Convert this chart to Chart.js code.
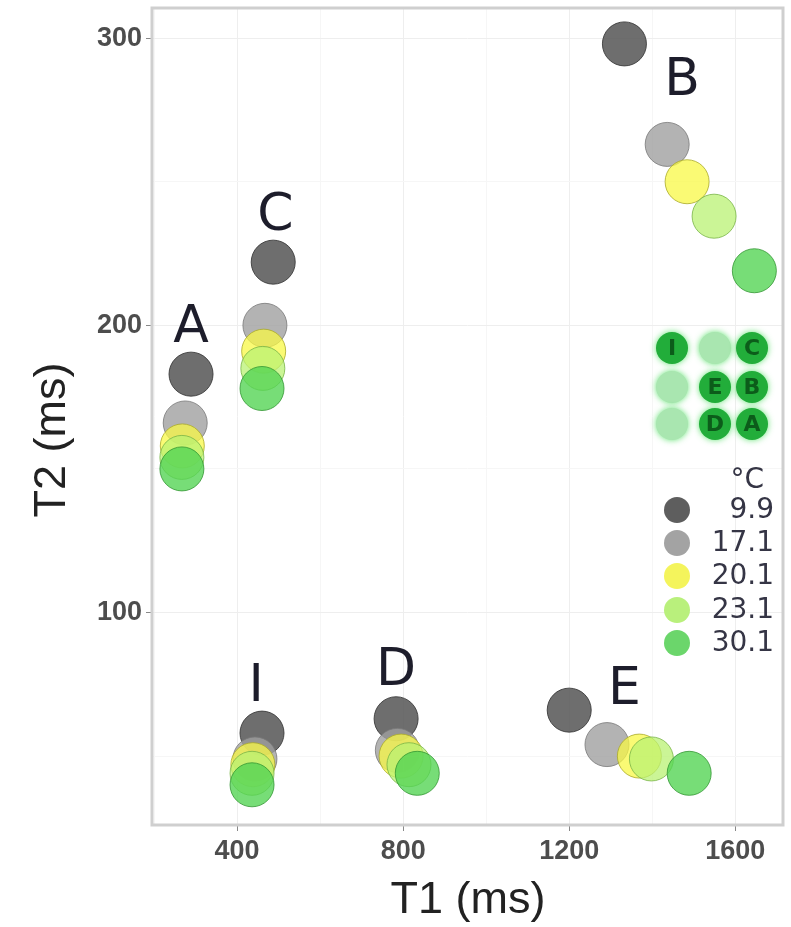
<!DOCTYPE html>
<html lang="en">
<head>
<meta charset="UTF-8">
<title>T1 vs T2</title>
<script src="https://cdn.jsdelivr.net/npm/chart.js"></script>
<style>
  body { margin: 0; background: #fff; }
  #wrap { width: 791px; height: 927px; }
</style>
</head>
<body>
<div id="wrap"><canvas id="myChart"></canvas></div>
<script>
// samples, in the same order in every series below
const samples = ['A', 'C', 'I', 'D', 'E', 'B'];
const temps = ['9.9', '17.1', '20.1', '23.1', '30.1'];

const t1_99  = [289, 487, 460, 783, 1200, 1333];
const t2_99  = [183, 222, 58, 63, 66, 298];
const t1_171 = [275, 467, 443, 786, 1291, 1436];
const t2_171 = [166, 200, 49, 52, 54, 263];
const t1_201 = [268, 464, 438, 795, 1369, 1484];
const t2_201 = [158, 191, 47, 50, 50, 250];
const t1_231 = [267, 462, 436, 814, 1398, 1549];
const t2_231 = [154, 185, 44, 47, 49, 238];
const t1_301 = [267, 460, 436, 834, 1489, 1646];
const t2_301 = [150, 178, 40, 44, 44, 219];

// where the sample letters sit (data units)
const labelT1 = [289, 492, 446, 783, 1333, 1472];
const labelT2 = [199, 238, 74, 79.5, 73, 285];

const xTicks = [400, 800, 1200, 1600];
const xMinor = [200, 600, 1000, 1400];
const yTicks = [100, 200, 300];
const yMinor = [50, 150, 250];

const fills   = ['rgba(85,85,85,0.85)', 'rgba(160,160,160,0.8)', 'rgba(248,248,70,0.75)', 'rgba(185,242,115,0.75)', 'rgba(85,212,85,0.8)'];
const borders = ['rgba(60,60,60,0.9)', 'rgba(120,120,120,0.8)', 'rgba(170,170,40,0.8)', 'rgba(120,180,70,0.8)', 'rgba(50,150,50,0.8)'];
const legendFills = ['#5e5e5e', '#a3a3a3', '#f4f45c', '#b9f07c', '#6bd66b'];

const t1Series = [t1_99, t1_171, t1_201, t1_231, t1_301];
const t2Series = [t2_99, t2_171, t2_201, t2_231, t2_301];

const datasets = temps.map((t, i) => ({
    label: t + ' °C',
    data: t1Series[i].map((x, j) => ({ x: x, y: t2Series[i][j] })),
    backgroundColor: fills[i],
    borderColor: borders[i],
    borderWidth: 1,
    pointRadius: 22,
    pointHoverRadius: 22,
    order: temps.length - i   // warmer ones on top
}));

const decor = {
    id: 'decor',
    beforeDatasetsDraw(chart) {
        const { ctx, chartArea: a } = chart;
        ctx.save();
        ctx.strokeStyle = '#cfcfcf';
        ctx.lineWidth = 3;
        ctx.strokeRect(a.left, a.top, a.right - a.left, a.bottom - a.top);
        ctx.restore();
    },
    afterDraw(chart) {
        const { ctx } = chart;
        const xs = chart.scales.x, ys = chart.scales.y;
        ctx.save();

        // sample letters
        ctx.fillStyle = '#1d1d2b';
        ctx.font = '52px "DejaVu Sans"';
        ctx.textAlign = 'center';
        ctx.textBaseline = 'middle';
        samples.forEach((s, i) => {
            ctx.fillText(s, xs.getPixelForValue(labelT1[i]), ys.getPixelForValue(labelT2[i]));
        });

        // plate layout inset
        const grid = [['I', '', 'C'], ['', 'E', 'B'], ['', 'D', 'A']];
        const gx = [672, 715, 752], gy = [348, 387, 424];
        grid.forEach((row, r) => row.forEach((s, c) => {
            ctx.save();
            ctx.shadowColor = 'rgba(60,220,80,0.8)';
            ctx.shadowBlur = 6;
            ctx.beginPath();
            ctx.arc(gx[c], gy[r], 16, 0, Math.PI * 2);
            ctx.fillStyle = s ? '#22ad3a' : '#a9e6b0';
            ctx.fill();
            ctx.restore();
            if (s) {
                ctx.fillStyle = '#0c5c1a';
                ctx.font = 'bold 22px "DejaVu Sans"';
                ctx.fillText(s, gx[c], gy[r] + 1);
            }
        }));

        // temperature legend
        ctx.font = '28px "DejaVu Sans"';
        ctx.fillStyle = '#353545';
        ctx.textAlign = 'right';
        ctx.fillText('°C', 764, 481);
        const ly = [510, 543, 576, 610, 643];
        temps.forEach((t, i) => {
            ctx.beginPath();
            ctx.arc(677, ly[i], 13, 0, Math.PI * 2);
            ctx.fillStyle = legendFills[i];
            ctx.fill();
            ctx.fillStyle = '#353545';
            ctx.fillText(t, 774, ly[i] + 1);
        });

        // axis titles
        ctx.fillStyle = '#222';
        ctx.font = '45px "Liberation Sans"';
        ctx.textAlign = 'center';
        ctx.textBaseline = 'alphabetic';
        ctx.fillText('T1 (ms)', 468, 913);
        ctx.translate(65, 440);
        ctx.rotate(-Math.PI / 2);
        ctx.fillText('T2 (ms)', 0, 0);
        ctx.restore();
    }
};

const tickFont = { family: 'Liberation Sans', size: 27, weight: 'bold' };

new Chart(document.getElementById('myChart'), {
    type: 'scatter',
    data: { datasets: datasets },
    options: {
        responsive: true,
        maintainAspectRatio: false,
        animation: false,
        layout: { autoPadding: false, padding: { top: 8, right: 8, left: 0, bottom: 0 } },
        plugins: { legend: { display: false }, tooltip: { enabled: false } },
        scales: {
            x: {
                type: 'linear',
                min: 195,
                max: 1715,
                afterFit: s => {
                    s.height = 102;
                    s.paddingLeft = 0; s.paddingRight = 0;
                },
                afterBuildTicks: s => {
                    s.ticks = xTicks.concat(xMinor).filter(v => v >= s.min && v <= s.max)
                        .sort((p, q) => p - q).map(v => ({ value: v }));
                },
                border: { display: false },
                grid: {
                    color: c => xTicks.includes(c.tick.value) ? '#eeeeee' : '#f6f6f6',
                    tickColor: c => xTicks.includes(c.tick.value) ? '#888' : 'rgba(0,0,0,0)',
                    tickLength: 6
                },
                ticks: {
                    font: tickFont,
                    color: '#4d4d4d',
                    padding: 4,
                    maxRotation: 0,
                    autoSkip: false,
                    callback: v => xTicks.includes(v) ? String(v) : ''
                }
            },
            y: {
                type: 'linear',
                min: 26,
                max: 310.5,
                afterFit: s => {
                    s.width = 152;
                    s.paddingTop = 0; s.paddingBottom = 0;
                },
                afterBuildTicks: s => {
                    s.ticks = yTicks.concat(yMinor).sort((p, q) => p - q).map(v => ({ value: v }));
                },
                border: { display: false },
                grid: {
                    color: c => yTicks.includes(c.tick.value) ? '#eeeeee' : '#f6f6f6',
                    tickColor: c => yTicks.includes(c.tick.value) ? '#888' : 'rgba(0,0,0,0)',
                    tickLength: 6
                },
                ticks: {
                    font: tickFont,
                    color: '#4d4d4d',
                    padding: 4,
                    autoSkip: false,
                    callback: v => yTicks.includes(v) ? String(v) : ''
                }
            }
        }
    },
    plugins: [decor]
});
</script>
</body>
</html>
